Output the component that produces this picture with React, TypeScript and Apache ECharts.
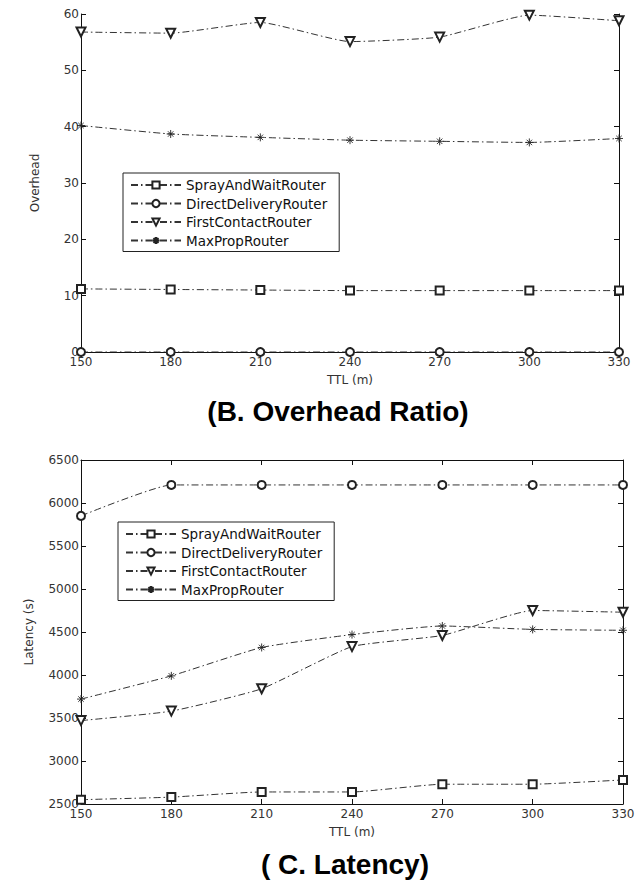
import React, { useEffect, useRef } from "react";
import * as echarts from "echarts";

const ttl = [150, 180, 210, 240, 270, 300, 330];
const seriesNames = ["SprayAndWaitRouter", "DirectDeliveryRouter", "FirstContactRouter", "MaxPropRouter"];

const overheadSpray = [11.2, 11.1, 11.0, 10.9, 10.9, 10.9, 10.9];
const overheadDirect = [0, 0, 0, 0, 0, 0, 0];
const overheadFirst = [56.8, 56.6, 58.5, 55.1, 55.9, 59.8, 58.8];
const overheadMaxProp = [40.2, 38.7, 38.1, 37.6, 37.4, 37.2, 37.9];

const latencySpray = [2550, 2580, 2640, 2640, 2730, 2730, 2780];
const latencyDirect = [5850, 6210, 6210, 6210, 6210, 6210, 6210];
const latencyFirst = [3470, 3580, 3840, 4330, 4460, 4750, 4730];
const latencyMaxProp = [3720, 3990, 4320, 4470, 4570, 4530, 4520];

const titles = ["(B. Overhead Ratio)", "( C. Latency)"];

const FONT = "DejaVu Sans";
const TITLE_FONT = "Liberation Sans";
const STAR = "path://M5,0 L5,10 M0,5 L10,5 M1.6,1.6 L8.4,8.4 M1.6,8.4 L8.4,1.6";
const symbols = ["emptyRect", "emptyCircle", "emptyTriangle", STAR];
const rotates = [0, 0, 180, 0];

export default function App() {
  const ref = useRef<HTMLDivElement>(null);
  useEffect(() => {
    document.body.style.margin = "0";
    const chart = echarts.init(ref.current!, null, { renderer: "svg" });
    const grids = [
      { left: 81, right: 21, top: 14, height: 338 },
      { left: 81, right: 17, top: 460, height: 344 },
    ];
    const axisLabel = { color: "#333", fontFamily: FONT, fontSize: 12 };
    const axisLine = { show: true, lineStyle: { color: "#111", width: 1 } };
    const tick = { show: true, inside: true, length: 5, lineStyle: { color: "#111" } };
    const nameStyle = { fontFamily: FONT, fontSize: 12, color: "#333" };
    const xAxis: any[] = [];
    const yAxis: any[] = [];
    [0, 1].forEach((g) => {
      xAxis.push({
        type: "value", gridIndex: g, min: 150, max: 330, interval: 30,
        axisLine, axisTick: tick, splitLine: { show: false },
        axisLabel: { ...axisLabel, margin: 4 },
        name: "TTL (m)", nameLocation: "middle", nameGap: 22,
        nameTextStyle: nameStyle,
      });
      xAxis.push({
        type: "value", gridIndex: g, min: 150, max: 330, interval: 30, position: "top",
        axisLine, axisTick: tick, axisLabel: { show: false }, splitLine: { show: false },
      });
    });
    yAxis.push({
      type: "value", gridIndex: 0, min: 0, max: 60, interval: 10,
      axisLine, axisTick: tick, splitLine: { show: false },
      axisLabel: { ...axisLabel, margin: 2 },
      name: "Overhead", nameLocation: "middle", nameGap: 40, nameRotate: 90,
      nameTextStyle: nameStyle,
    });
    yAxis.push({
      type: "value", gridIndex: 0, min: 0, max: 60, interval: 10, position: "right",
      axisLine, axisTick: tick, axisLabel: { show: false }, splitLine: { show: false },
    });
    yAxis.push({
      type: "value", gridIndex: 1, min: 2500, max: 6500, interval: 500,
      axisLine, axisTick: tick, splitLine: { show: false },
      axisLabel: { ...axisLabel, margin: 2, formatter: (v: number) => String(v) },
      name: "Latency (s)", nameLocation: "middle", nameGap: 46, nameRotate: 90,
      nameTextStyle: nameStyle,
    });
    yAxis.push({
      type: "value", gridIndex: 1, min: 2500, max: 6500, interval: 500, position: "right",
      axisLine, axisTick: tick, axisLabel: { show: false }, splitLine: { show: false },
    });

    const mk = (name: string, i: number, vals: number[], axisIdx: number) => ({
      type: "line",
      name,
      xAxisIndex: axisIdx * 2,
      yAxisIndex: axisIdx * 2,
      data: ttl.map((t, k) => [t, vals[k]]),
      symbol: symbols[i],
      symbolRotate: rotates[i],
      symbolSize: i === 2 ? 9 : 8,
      smooth: 0.15,
      lineStyle: { color: "#333", width: 1, type: [7, 3, 1.5, 3] },
      itemStyle: { color: "#222", borderColor: "#222", borderWidth: 0.9 },
      emphasis: { disabled: true },
    });
    const over = [overheadSpray, overheadDirect, overheadFirst, overheadMaxProp];
    const lat = [latencySpray, latencyDirect, latencyFirst, latencyMaxProp];
    const series: any[] = [];
    over.forEach((v, i) => series.push(mk(seriesNames[i], i, v, 0)));
    lat.forEach((v, i) => series.push(mk(seriesNames[i], i, v, 1)));

    const legendBase = {
      orient: "vertical",
      data: seriesNames,
      borderColor: "#222",
      borderWidth: 1,
      borderRadius: 0,
      backgroundColor: "#fff",
      itemWidth: 50,
      itemHeight: 9,
      itemGap: 4.5,
      selectedMode: false,
      padding: [5, 12, 4, 7],
      textStyle: { fontFamily: FONT, color: "#111", fontSize: 13.5, lineHeight: 14 },
    };

    chart.setOption({
      animation: false,
      backgroundColor: "#fff",
      grid: grids,
      xAxis,
      yAxis,
      series,
      legend: [
        { ...legendBase, left: 123, top: 173 },
        { ...legendBase, left: 118, top: 522 },
      ],
      graphic: [
        { type: "text", x: 338, y: 411, style: { text: titles[0], fontFamily: TITLE_FONT, fontSize: 28, fontWeight: "bold", fill: "#000", align: "center", verticalAlign: "middle" } },
        { type: "text", x: 345, y: 864, style: { text: titles[1], fontFamily: TITLE_FONT, fontSize: 28, fontWeight: "bold", fill: "#000", align: "center", verticalAlign: "middle" } },
      ],
    });
    return () => chart.dispose();
  }, []);
  return <div ref={ref} style={{ width: 640, height: 883 }} />;
}
